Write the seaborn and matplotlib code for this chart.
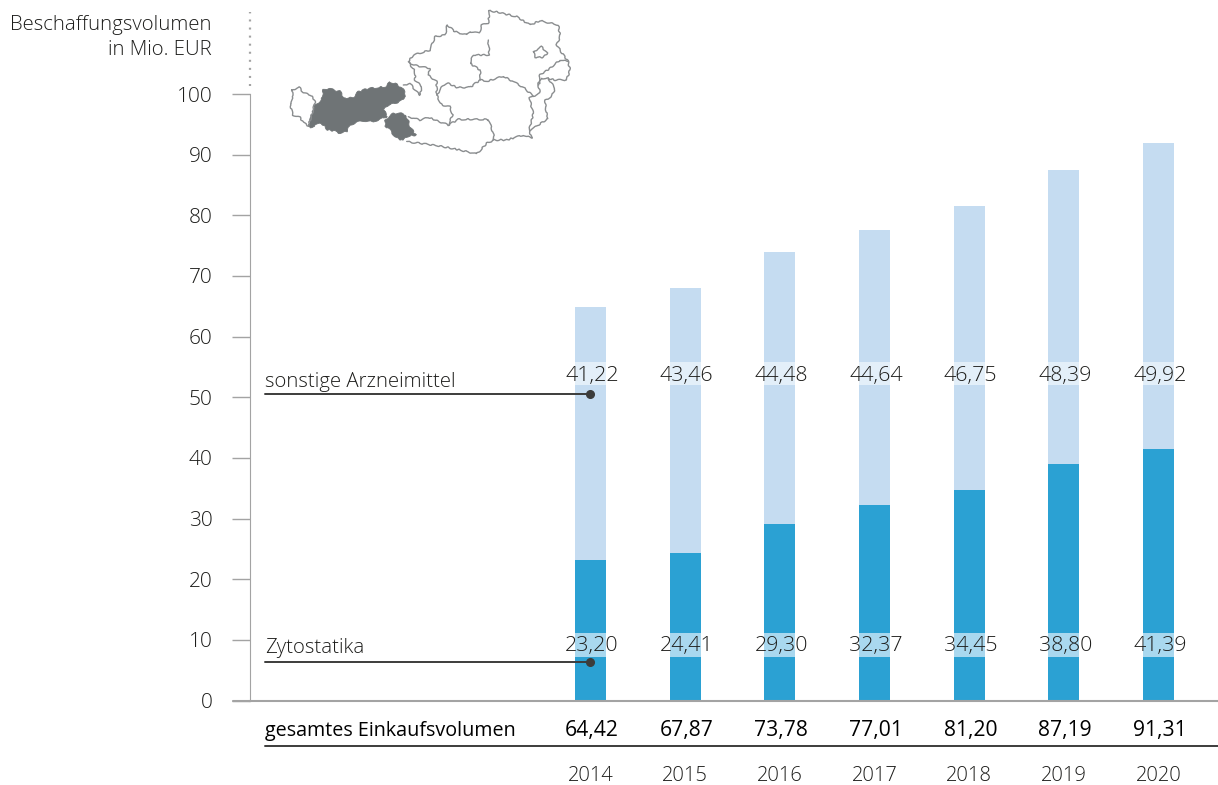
import numpy as np
import pandas as pd
import seaborn as sns
import matplotlib.pyplot as plt
from matplotlib.patches import Polygon

jahre = ["2014", "2015", "2016", "2017", "2018", "2019", "2020"]
zytostatika = [23.20, 24.41, 29.30, 32.37, 34.45, 38.80, 41.39]
sonstige = [41.22, 43.46, 44.48, 44.64, 46.75, 48.39, 49.92]
gesamt = [64.42, 67.87, 73.78, 77.01, 81.20, 87.19, 91.31]
# Balkenhoehen (etwas anders als die Beschriftung)
hoehe_gesamt = [64.9, 68.0, 74.0, 77.6, 81.6, 87.5, 91.9]
hoehe_zyto = [23.2, 24.4, 29.1, 32.3, 34.7, 39.0, 41.5]
y_ticks = [0, 10, 20, 30, 40, 50, 60, 70, 80, 90, 100]

def de(wert):
    return f"{wert:.2f}".replace(".", ",")

# Oesterreich-Karte, Koordinaten aus dem Zoom (3-fach, Ursprung 240/0)
tirol = [(250,268),(270,265),(285,272),(300,272),(312,295),(340,292),(355,275),(385,265),(440,260),(448,245),(470,252),(490,268),(498,288),(480,305),(440,318),(432,330),(442,350),(400,365),(365,362),(330,375),(320,395),(300,400),(280,392),(262,390),(245,370),(225,375),(212,385),(205,380),(215,345),(225,315),(245,300)]
osttirol = [(435,360),(460,340),(490,340),(505,360),(510,380),(528,405),(500,410),(490,422),(465,412),(450,390),(435,378)]
karten_linien = [
    [(155,270),(178,262),(190,278),(212,285),(226,303),(222,320),(215,345),(205,378),(190,368),(180,352),(158,345),(150,312),(160,295),(155,270)],
    [(490,255),(510,250),(525,270),(540,285),(545,260),(525,240),(525,215),(505,185),(520,165),(570,150),(585,110),(615,105),(622,75),(645,95),(680,105),(690,95),(718,100),(725,75),(745,70),(748,32),(780,38),(830,50),(870,75),(900,62),(955,75),(960,110),(950,135),(970,165),(985,185),(990,210),(980,240),(945,240),(925,235),(945,265),(935,290),(915,300),(920,345),(925,355),(880,385),(868,390),(875,415),(850,405),(800,420),(762,420),(740,430),(710,462),(660,450),(600,438),(540,430),(500,425)],
    [(505,350),(540,360),(565,352),(625,375),(655,358),(745,358),(760,400),(762,420)],
    [(505,185),(520,195),(545,200),(570,205),(565,225),(590,245),(590,285),(605,315),(630,320),(638,345),(625,375)],
    [(590,285),(610,255),(625,250),(650,262),(690,262),(720,240),(745,243),(790,228),(820,245),(850,262),(880,288),(900,280),(895,255),(905,235),(925,235)],
    [(745,120),(748,165),(700,165),(690,190),(720,210),(722,240)],
    [(985,185),(960,180),(930,205),(900,225),(895,255)],
    [(880,288),(868,295),(880,340),(868,390)],
    [(880,155),(905,140),(922,160),(910,172),(885,172),(880,155)],
]

df = pd.DataFrame({"jahr": jahre, "gesamt": hoehe_gesamt, "zyto": hoehe_zyto})

sns.set_style("white")
plt.rcParams["font.family"] = "Open Sans"
plt.rcParams["font.weight"] = "light"

schrift = "#1d1d1b"
dunkel = "#3c3c3b"
grau = "#a3a3a3"
fig = plt.figure(figsize=(12.18, 7.85), dpi=100)
ax = fig.add_axes([250 / 1218, 1 - 700.5 / 785, (1218 - 250) / 1218, 606.5 / 785])

sns.barplot(data=df, x="jahr", y="gesamt", color="#c5dcf1", saturation=1, width=0.327, linewidth=0, ax=ax)
sns.barplot(data=df, x="jahr", y="zyto", color="#2ba1d3", saturation=1, width=0.327, linewidth=0, ax=ax)

ax.set_xlim(-3.597, 6.628)
ax.set_ylim(0, 100)
ax.set_xlabel("")
ax.set_ylabel("")
ax.set_yticks(y_ticks)
ax.tick_params(axis="y", length=13, width=1, color=grau, pad=14, labelsize=15, labelcolor=schrift, left=True)
ax.tick_params(axis="x", length=0, pad=47, labelsize=14.5, labelcolor=schrift)
sns.despine(ax=ax, top=True, right=True)
ax.spines["left"].set_color(grau)
ax.spines["bottom"].set_color(grau)
ax.spines["bottom"].set_linewidth(1.5)
ax.plot([-3.597, -3.597], [101.3, 113.5], ls=(0, (0.9, 2.73)), color=grau, lw=1.6, clip_on=False)
ax.plot([-3.78, -3.597], [0, 0], color=grau, lw=1.5, clip_on=False)

# helle Felder hinter den Werten
x = np.arange(len(jahre))
ax.bar(x, 3.8, bottom=7.25, width=0.327, color="#a9d8ef", linewidth=0, zorder=3)
ax.bar(x, 3.8, bottom=52.0, width=0.327, color="#e3eff9", linewidth=0, zorder=3)

for i in x:
    ax.text(i + 0.015, 9.0, de(zytostatika[i]), ha="center", va="center", fontsize=15.4, color=schrift, zorder=5)
    ax.text(i + 0.015, 53.5, de(sonstige[i]), ha="center", va="center", fontsize=15.4, color=schrift, zorder=5)
    ax.text(i + 0.015, -5.0, de(gesamt[i]), ha="center", va="center", fontsize=15.2, color="black",
            fontweight="regular", clip_on=False)

# Hinweislinien
for y, y_text, name in [(50.5, 50.9, "sonstige Arzneimittel"), (6.3, 7.0, "Zytostatika")]:
    ax.plot([-3.44, -0.01], [y, y], color=dunkel, lw=1.4, zorder=6)
    ax.plot(-0.01, y, "o", color=dunkel, ms=5.5, zorder=6)
    ax.text(-3.435, y_text, name, ha="left", va="bottom", fontsize=14.7, color=schrift)
ax.text(-3.435, -5.0, "gesamtes Einkaufsvolumen", ha="left", va="center", fontsize=14.2,
        color="black", fontweight="regular", clip_on=False)
ax.plot([-3.44, 6.628], [-7.5, -7.5], color=dunkel, lw=1.4, clip_on=False)

fig.text(212 / 1218, 1 - 25 / 785, "Beschaffungsvolumen", ha="right", va="center", fontsize=14.7, color=schrift)
fig.text(212 / 1218, 1 - 50 / 785, "in Mio. EUR", ha="right", va="center", fontsize=14.7, color=schrift)

# Karte in eigener Achse, volle Abbildung in Zoom-Koordinaten
karte = fig.add_axes([0, 0, 1, 1], facecolor="none")
karte.set_xlim(-240 * 3, (1218 - 240) * 3)
karte.set_ylim(785 * 3, 0)
karte.axis("off")
for linie in karten_linien:
    xs, ys = zip(*linie)
    l, = karte.plot(xs, ys, color="#8a8d8f", lw=1.0)
    l.set_sketch_params(0.7, 10, 3)
for flaeche in [tirol, osttirol]:
    p = Polygon(flaeche, closed=True, fc="#6f7476", ec="#6f7476", lw=0.6)
    p.set_sketch_params(0.7, 10, 3)
    karte.add_patch(p)

fig.savefig("out.png", dpi=100)
